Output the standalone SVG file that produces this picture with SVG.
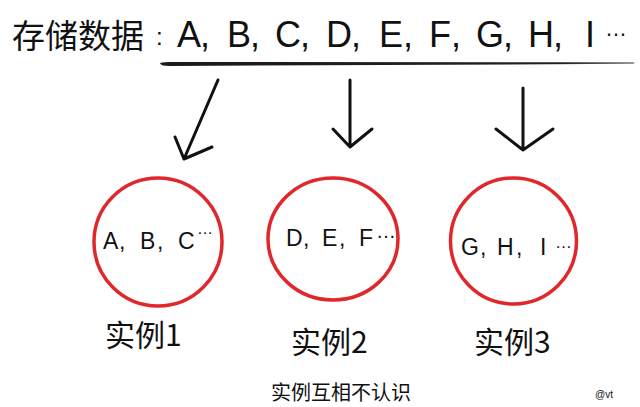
<svg xmlns="http://www.w3.org/2000/svg" width="640" height="407" viewBox="0 0 640 407">
  <defs>
    <style>
      .cjk { font-family: "Noto Sans CJK SC", "Liberation Sans", sans-serif; fill: #111; }
      .lat { font-family: "Liberation Sans", "Noto Sans CJK SC", sans-serif; fill: #111; }
      .ring { fill: none; stroke: #e0282c; stroke-width: 3.5; }
      .arrow { fill: none; stroke: #111; stroke-width: 3; stroke-linecap: round; stroke-linejoin: round; }
    </style>
    <linearGradient id="fade" x1="0" y1="0" x2="1" y2="0">
      <stop offset="0" stop-color="#1a1a1a"/>
      <stop offset="0.85" stop-color="#222"/>
      <stop offset="1" stop-color="#777"/>
    </linearGradient>
  </defs>
  <rect width="640" height="407" fill="#fff"/>

  <g id="title">
    <text class="cjk" font-size="33"><tspan x="12" y="48">存储数据</tspan><tspan class="lat" font-size="24" x="156" y="45">:</tspan><tspan class="lat" font-size="36" x="177" y="47">A</tspan><tspan class="lat" font-size="36" x="200" y="47">,</tspan><tspan class="lat" font-size="36" x="227" y="47">B</tspan><tspan class="lat" font-size="36" x="250" y="47">,</tspan><tspan class="lat" font-size="36" x="275" y="47">C</tspan><tspan class="lat" font-size="36" x="300" y="47">,</tspan><tspan class="lat" font-size="36" x="326" y="47">D</tspan><tspan class="lat" font-size="36" x="351" y="47">,</tspan><tspan class="lat" font-size="36" x="379" y="47">E</tspan><tspan class="lat" font-size="36" x="403" y="47">,</tspan><tspan class="lat" font-size="36" x="429" y="47">F</tspan><tspan class="lat" font-size="36" x="451" y="47">,</tspan><tspan class="lat" font-size="36" x="476" y="47">G</tspan><tspan class="lat" font-size="36" x="503" y="47">,</tspan><tspan class="lat" font-size="36" x="528" y="47">H</tspan><tspan class="lat" font-size="36" x="553" y="47">,</tspan><tspan class="lat" font-size="36" x="585" y="47">I</tspan><tspan class="lat" font-size="22" x="605" y="36">…</tspan></text>
  </g>

  <g id="connectors">
    <path d="M160,63.5 Q161,61.8 170,62 L633,62.3 Q636,63 633,63.8 L170,66 Q161,66 160,63.5 Z" fill="url(#fade)"/>
    <path class="arrow" d="M218,80 L184,159 M175,137 L184,159 L212,147"/>
    <path class="arrow" d="M350,80 L350,147 M333,129 L350,147 L372,129"/>
    <path class="arrow" d="M523,88 L523,150 M496,129 L523,150 L553,129"/>
  </g>

  <g id="instance1">
    <ellipse class="ring" cx="158" cy="242" rx="64" ry="64"/>
    <text class="lat" font-size="23"><tspan x="103" y="249">A</tspan><tspan x="119" y="249">,</tspan><tspan x="140" y="249">B</tspan><tspan x="157" y="249">,</tspan><tspan x="178" y="249">C</tspan><tspan font-size="16" x="197" y="234">…</tspan></text>
  </g>

  <g id="instance2">
    <ellipse class="ring" cx="333" cy="239" rx="65" ry="61"/>
    <text class="lat" font-size="23"><tspan x="286" y="246">D</tspan><tspan x="303" y="246">,</tspan><tspan x="322" y="246">E</tspan><tspan x="339" y="246">,</tspan><tspan x="359" y="246">F</tspan><tspan font-size="20" x="376" y="238">…</tspan></text>
  </g>

  <g id="instance3">
    <ellipse class="ring" cx="513.5" cy="241" rx="63" ry="63"/>
    <text class="lat" font-size="23"><tspan x="461" y="255">G</tspan><tspan x="480" y="255">,</tspan><tspan x="497" y="255">H</tspan><tspan x="516" y="255">,</tspan><tspan x="540" y="255">I</tspan><tspan font-size="17" x="555" y="248">…</tspan></text>
  </g>

  <g id="labels">
    <text class="cjk" font-size="30" x="105" y="346">实例1</text>
    <text class="cjk" font-size="30" x="291" y="353">实例2</text>
    <text class="cjk" font-size="30" x="474" y="353">实例3</text>
    <text class="cjk" font-size="20" x="271" y="400">实例互相不认识</text>
    <text class="lat" font-size="10" x="595" y="398">@vt</text>
  </g>
</svg>
